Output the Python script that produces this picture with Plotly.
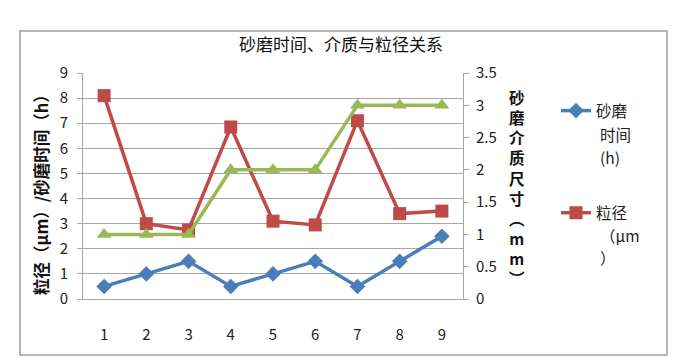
import plotly.graph_objects as go

categories = [1, 2, 3, 4, 5, 6, 7, 8, 9]
grind_time_h = [0.5, 1, 1.5, 0.5, 1, 1.5, 0.5, 1.5, 2.5]
particle_um = [8.1, 3.0, 2.75, 6.85, 3.1, 2.95, 7.1, 3.4, 3.5]
media_mm = [1, 1, 1, 2, 2, 2, 3, 3, 3]
legend_blue = ["砂磨", "时间", "(h)"]
legend_red = ["粒径", "（μm", "）"]

FONT = "Noto Sans CJK SC"
GRID = "#A6A6A6"
OFF = 8  # page body margin

fig = go.Figure()
fig.add_trace(go.Scatter(
    x=categories, y=grind_time_h, name=legend_blue[0],
    mode="lines+markers", line=dict(color="#4A7EBB", width=3.5),
    marker=dict(symbol="diamond", size=12, color="#4A7EBB"), legendgroup="a"))
fig.add_trace(go.Scatter(
    x=categories, y=particle_um, name=legend_red[0],
    mode="lines+markers", line=dict(color="#BE4B48", width=3.5),
    marker=dict(symbol="square", size=13, color="#BE4B48"), legendgroup="b"))
fig.add_trace(go.Scatter(
    x=categories, y=media_mm, name="介质", yaxis="y2", showlegend=False,
    mode="lines+markers", line=dict(color="#98B954", width=3.5),
    marker=dict(symbol="triangle-up", size=13, color="#98B954")))

W, H = 700 - 2 * OFF, 362 - 12
L, R, T, B = 83 - OFF, 463 - OFF, 73 - OFF, 299 - OFF
pw, ph = R - L, B - T
def px(x): return (x - OFF - L) / pw
def py(y): return (B - (y - OFF)) / ph

fig.update_layout(
    width=W, height=H,
    margin=dict(l=L, r=W - R, t=T, b=H - B, autoexpand=False),
    paper_bgcolor="white", plot_bgcolor="white",
    font=dict(family=FONT, size=15, color="#222"),
    title=dict(text="砂磨时间、介质与粒径关系", x=px(341), xanchor="center", xref="paper",
               y=1 - (45 - OFF) / H, yanchor="middle", yref="container",
               font=dict(size=17, color="#111")),
    xaxis=dict(range=[0.5, 9.5], tickmode="array", tickvals=categories,
               ticktext=[str(c) for c in categories], showgrid=False,
               showline=True, linecolor=GRID, linewidth=1, ticks="",
               ticklabelstandoff=22, zeroline=False),
    yaxis=dict(range=[0, 9], dtick=1, showgrid=True, gridcolor=GRID, gridwidth=1,
               showline=True, linecolor=GRID, ticks="outside", ticklen=5,
               tickcolor=GRID, zeroline=False, ticklabelstandoff=6),
    yaxis2=dict(range=[0, 3.5], dtick=0.5, overlaying="y", side="right",
                showgrid=False, showline=True, linecolor=GRID, ticks="outside",
                ticklen=5, tickcolor=GRID, zeroline=False, ticklabelstandoff=4),
    legend=dict(x=px(556), y=py(94), xanchor="left", yanchor="top",
                valign="top", tracegroupgap=79, font=dict(size=15.5, color="#222"),
                itemwidth=30, bgcolor="rgba(0,0,0,0)"),
    showlegend=True,
)

fig.add_shape(type="rect", xref="paper", yref="paper",
              x0=px(20), x1=px(667), y0=py(355), y1=py(31),
              line=dict(color="#A0A0A0", width=1.5), layer="below")

fig.add_annotation(text="<b>粒径（μm）/砂磨时间（h）</b>", xref="paper", yref="paper",
                   x=px(41), y=py(191), textangle=-90, showarrow=False,
                   xanchor="center", yanchor="middle",
                   font=dict(size=16.5, color="#111"))
right_title = "<br>".join(["砂", "磨", "介", "质", "尺", "寸", "︵", "m", "m", "︶"])
fig.add_annotation(text="<b>" + right_title + "</b>", xref="paper", yref="paper",
                   x=px(517), y=py(187), showarrow=False,
                   xanchor="center", yanchor="middle",
                   font=dict(size=15.5, color="#111"))

# continuation lines of the wrapped legend labels
for txt, yy in zip(legend_blue[1:] + legend_red[1:], [134, 157, 235, 257]):
    fig.add_annotation(text=txt, xref="paper", yref="paper", x=px(598), y=py(yy),
                       xanchor="left", yanchor="middle", showarrow=False,
                       font=dict(size=15.5, color="#222"))

fig.write_html("out.html")
